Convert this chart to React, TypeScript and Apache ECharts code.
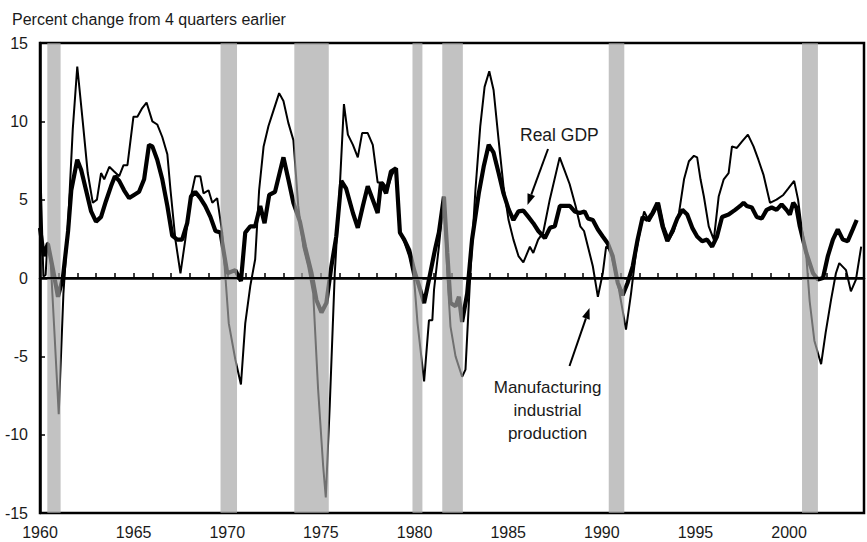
import React, { useEffect, useRef } from "react";
import * as echarts from "echarts";

const titleText = "Percent change from 4 quarters earlier";
const gdpLabel = "Real GDP";
const mfgLabel = ["Manufacturing", "industrial", "production"];

const recessions: [number, number][] = [
  [1960.39, 1961.1],
  [1969.64, 1970.52],
  [1973.58, 1975.42],
  [1979.89, 1980.42],
  [1981.48, 1982.58],
  [1990.37, 1991.2],
  [2000.69, 2001.54],
];

// Real GDP, percent change from 4 quarters earlier (year, value)
const gdp: [number, number][] = [
  [1960.0, 3.2], [1960.2, 1.4], [1960.42, 2.2], [1960.7, 0.5], [1960.96, -1.2],
  [1961.22, 0.0], [1961.5, 3.0], [1961.67, 5.6], [1961.99, 7.55], [1962.2, 6.9],
  [1962.46, 5.6], [1962.73, 4.25], [1962.99, 3.6], [1963.26, 3.9], [1963.52, 4.9],
  [1963.79, 5.85], [1964.0, 6.5], [1964.23, 6.2], [1964.49, 5.6], [1964.76, 5.1],
  [1965.02, 5.3], [1965.29, 5.5], [1965.56, 6.3], [1965.82, 8.5], [1966.0, 8.4],
  [1966.26, 7.55], [1966.53, 6.3], [1966.8, 4.6], [1967.06, 2.7], [1967.33, 2.45],
  [1967.59, 2.45], [1967.86, 3.5], [1968.06, 5.2], [1968.29, 5.5], [1968.56, 5.1],
  [1968.82, 4.6], [1969.1, 3.9], [1969.37, 3.0], [1969.64, 2.9], [1970.0, 0.3],
  [1970.43, 0.5], [1970.73, -0.2], [1970.96, 2.9], [1971.23, 3.3], [1971.49, 3.3],
  [1971.76, 4.6], [1971.99, 3.5], [1972.24, 5.3], [1972.55, 5.5], [1973.0, 7.7],
  [1973.26, 6.3], [1973.53, 4.8], [1973.88, 3.6], [1974.15, 2.0], [1974.5, 0.3],
  [1974.76, -1.4], [1975.03, -2.2], [1975.29, -1.6], [1975.56, 0.75], [1975.82, 2.65],
  [1976.09, 6.2], [1976.35, 5.7], [1976.71, 4.15], [1976.97, 3.2], [1977.24, 4.6],
  [1977.5, 5.85], [1977.77, 5.0], [1978.03, 4.15], [1978.21, 6.1], [1978.48, 5.4],
  [1978.74, 6.8], [1979.01, 7.0], [1979.22, 2.9], [1979.45, 2.45], [1979.71, 1.8],
  [1979.98, 0.5], [1980.24, -0.5], [1980.51, -1.6], [1980.77, -0.1], [1981.09, 1.8],
  [1981.3, 2.9], [1981.57, 5.2], [1981.75, 1.6], [1981.92, -1.6], [1982.19, -1.8],
  [1982.37, -1.2], [1982.54, -2.8], [1982.81, -1.0], [1983.07, 2.45], [1983.43, 5.4],
  [1983.69, 7.1], [1983.96, 8.5], [1984.22, 8.0], [1984.49, 6.7], [1984.75, 5.4],
  [1985.02, 4.4], [1985.28, 3.7], [1985.55, 4.25], [1985.81, 4.3], [1986.08, 3.9],
  [1986.34, 3.5], [1986.61, 3.0], [1986.96, 2.55], [1987.23, 3.2], [1987.49, 3.3],
  [1987.76, 4.6], [1988.0, 4.6], [1988.29, 4.6], [1988.55, 4.25], [1988.82, 4.15],
  [1989.08, 4.25], [1989.26, 3.8], [1989.52, 3.7], [1989.79, 3.1], [1990.05, 2.65],
  [1990.32, 2.2], [1990.58, 1.4], [1990.85, -0.3], [1991.11, -1.1], [1991.38, -0.3],
  [1991.65, 0.75], [1991.91, 2.45], [1992.18, 3.9], [1992.44, 3.7], [1992.71, 4.15],
  [1992.97, 4.8], [1993.24, 3.3], [1993.5, 2.35], [1993.77, 3.0], [1994.03, 3.8],
  [1994.3, 4.35], [1994.56, 4.05], [1994.83, 3.2], [1995.09, 2.65], [1995.36, 2.35],
  [1995.62, 2.45], [1995.89, 2.0], [1996.15, 2.65], [1996.42, 3.9], [1996.77, 4.05],
  [1997.12, 4.35], [1997.39, 4.6], [1997.57, 4.8], [1997.74, 4.6], [1998.01, 4.5],
  [1998.27, 3.9], [1998.54, 3.8], [1998.8, 4.35], [1999.07, 4.5], [1999.33, 4.35],
  [1999.6, 4.7], [1999.86, 4.35], [2000.04, 4.05], [2000.22, 4.8], [2000.39, 4.5],
  [2000.57, 3.3], [2000.92, 1.6], [2001.28, 0.3], [2001.54, -0.1], [2001.81, 0.0],
  [2002.07, 1.4], [2002.34, 2.45], [2002.6, 3.1], [2002.87, 2.45], [2003.13, 2.35],
  [2003.4, 3.1], [2003.61, 3.7],
];

// Manufacturing industrial production, percent change from 4 quarters earlier
const mfg: [number, number][] = [
  [1960.0, 7.8], [1960.18, 0.1], [1960.3, 0.2], [1960.4, 2.3], [1960.55, 1.5],
  [1960.75, -3.0], [1961.0, -8.7], [1961.25, -1.0], [1961.5, 3.5], [1961.75, 9.5],
  [1961.99, 13.5], [1962.29, 9.9], [1962.55, 6.7], [1962.82, 4.8], [1963.04, 5.0],
  [1963.26, 6.7], [1963.43, 6.3], [1963.7, 7.1], [1963.96, 6.8], [1964.23, 6.5],
  [1964.46, 7.2], [1964.67, 7.2], [1964.99, 10.3], [1965.2, 10.3], [1965.46, 10.85],
  [1965.69, 11.2], [1966.0, 10.0], [1966.26, 9.8], [1966.53, 9.0], [1966.8, 7.9],
  [1966.97, 5.6], [1967.23, 2.45], [1967.5, 0.3], [1967.76, 2.45], [1968.06, 5.2],
  [1968.29, 6.5], [1968.56, 6.5], [1968.73, 5.4], [1969.0, 5.6], [1969.2, 4.8],
  [1969.46, 5.1], [1969.73, 2.9], [1970.08, -2.9], [1970.43, -5.2], [1970.73, -6.8],
  [1970.96, -2.9], [1971.23, -0.5], [1971.49, 1.2], [1971.7, 5.6], [1971.94, 8.4],
  [1972.2, 9.7], [1972.47, 10.7], [1972.77, 11.8], [1973.0, 11.3], [1973.26, 9.9],
  [1973.53, 8.8], [1973.79, 4.6], [1974.06, 2.0], [1974.32, 0.75], [1974.59, -1.0],
  [1974.85, -7.1], [1975.12, -12.0], [1975.26, -14.0], [1975.47, -8.2], [1975.74, 0.3],
  [1976.0, 5.6], [1976.23, 11.1], [1976.44, 9.15], [1976.71, 8.5], [1976.97, 7.7],
  [1977.2, 9.25], [1977.5, 9.25], [1977.77, 8.5], [1978.03, 6.1], [1978.3, 6.1],
  [1978.56, 5.7], [1978.8, 6.6], [1979.01, 7.0], [1979.22, 2.9], [1979.45, 2.3],
  [1979.71, 1.4], [1979.98, -0.1], [1980.16, -2.9], [1980.51, -6.6], [1980.77, -2.7],
  [1980.95, -2.7], [1981.04, -0.75], [1981.3, 2.0], [1981.57, 5.2], [1981.75, 0.3],
  [1981.92, -3.1], [1982.19, -5.0], [1982.54, -6.3], [1982.72, -5.85], [1982.98, 0.3],
  [1983.25, 5.6], [1983.51, 9.7], [1983.74, 12.2], [1983.99, 13.2], [1984.22, 12.0],
  [1984.49, 8.8], [1984.75, 5.85], [1985.02, 3.7], [1985.28, 2.45], [1985.55, 1.4],
  [1985.81, 1.0], [1986.16, 2.0], [1986.34, 1.6], [1986.6, 2.45], [1986.87, 2.9],
  [1987.22, 5.0], [1987.75, 7.7], [1988.0, 6.9], [1988.28, 6.0], [1988.6, 4.6],
  [1988.85, 3.3], [1989.05, 3.0], [1989.26, 2.0], [1989.52, 0.75], [1989.79, -1.2],
  [1990.05, 0.3], [1990.23, 2.0], [1990.45, 1.8], [1990.85, -0.3], [1991.29, -3.3],
  [1991.56, -1.0], [1991.82, 1.6], [1992.09, 3.3], [1992.26, 4.25], [1992.53, 3.6],
  [1992.79, 4.15], [1993.06, 4.8], [1993.32, 3.3], [1993.59, 2.45], [1993.85, 3.0],
  [1994.12, 4.15], [1994.39, 6.3], [1994.65, 7.45], [1994.92, 7.8], [1995.09, 7.7],
  [1995.27, 6.3], [1995.45, 5.2], [1995.71, 3.3], [1995.98, 2.45], [1996.24, 5.2],
  [1996.51, 6.3], [1996.77, 6.7], [1996.95, 8.4], [1997.21, 8.3], [1997.48, 8.7],
  [1997.8, 9.15], [1998.1, 8.4], [1998.36, 7.55], [1998.63, 6.6], [1998.98, 4.8],
  [1999.33, 5.0], [1999.69, 5.3], [1999.95, 5.7], [2000.27, 6.2], [2000.48, 5.0],
  [2000.66, 3.3], [2000.92, 1.4], [2001.1, -1.5], [2001.35, -4.0], [2001.71, -5.5],
  [2001.95, -3.5], [2002.24, -1.4], [2002.5, 0.3], [2002.68, 0.95], [2003.04, 0.5],
  [2003.3, -0.85], [2003.57, -0.1], [2003.85, 2.0],
];

const FONT = "'Liberation Sans', Arial, sans-serif";
const INK = "#1a1a1a";

function arrow(x1: number, y1: number, x2: number, y2: number) {
  const len = 11;
  const half = 4;
  const dx = x2 - x1;
  const dy = y2 - y1;
  const d = Math.hypot(dx, dy);
  const ux = dx / d;
  const uy = dy / d;
  const bx = x2 - ux * len;
  const by = y2 - uy * len;
  return [
    {
      type: "line",
      shape: { x1, y1, x2: bx, y2: by },
      style: { stroke: "#000", lineWidth: 2 },
      z: 20,
    },
    {
      type: "polygon",
      shape: {
        points: [
          [x2, y2],
          [bx - uy * half, by + ux * half],
          [bx + uy * half, by - ux * half],
        ],
      },
      style: { fill: "#000" },
      z: 20,
    },
  ];
}

export default function App() {
  const ref = useRef<HTMLDivElement>(null);
  useEffect(() => {
    document.body.style.margin = "0";
    const chart = echarts.init(ref.current!, null, { renderer: "svg" });
    chart.setOption({
      animation: false,
      backgroundColor: "#fff",
      grid: {
        left: 40,
        right: -3,
        top: 43,
        bottom: 29,
        show: true,
        borderColor: "#000",
        borderWidth: 2.5,
        backgroundColor: "transparent",
      },
      xAxis: {
        type: "value",
        min: 1960,
        max: 2004,
        interval: 1,
        axisLine: { show: true, lineStyle: { color: "#000", width: 2.5 } },
        axisTick: { show: true, inside: true, length: 5, lineStyle: { color: "#000", width: 1.5 } },
        splitLine: { show: false },
        axisLabel: {
          fontFamily: FONT,
          fontSize: 16,
          color: INK,
          margin: 11,
          formatter: (v: number) => (v % 5 === 0 ? String(v) : ""),
        },
      },
      yAxis: {
        type: "value",
        min: -15,
        max: 15,
        interval: 5,
        axisLine: { show: true, lineStyle: { color: "#000", width: 2.5 } },
        axisTick: { show: true, inside: true, length: 5, lineStyle: { color: "#000", width: 1.5 } },
        splitLine: { show: false },
        axisLabel: { fontFamily: FONT, fontSize: 16, color: INK, margin: 12 },
      },
      series: [
        {
          name: "Manufacturing industrial production",
          type: "line",
          data: mfg,
          showSymbol: false,
          symbol: "none",
          z: 2,
          lineStyle: { color: "#000", width: 2 },
        },
        {
          name: "Real GDP",
          type: "line",
          data: gdp,
          showSymbol: false,
          symbol: "none",
          z: 3,
          lineStyle: { color: "#000", width: 4.2 },
          markArea: {
            silent: true,
            z: 10,
            itemStyle: { color: "rgb(165,165,165)", opacity: 0.68 },
            data: recessions.map(([a, b]) => [{ xAxis: a }, { xAxis: b }]),
          },
          markLine: {
            silent: true,
            z: 11,
            symbol: ["none", "none"],
            label: { show: false },
            lineStyle: { color: "#000", width: 2, type: "solid" },
            data: [{ yAxis: 0 }],
          },
        },
      ],
      graphic: [
        {
          type: "text",
          left: 12,
          top: 11,
          style: { text: titleText, font: `16px ${FONT}`, fill: INK },
        },
        {
          type: "text",
          x: 520,
          y: 135,
          style: { text: gdpLabel, font: `17.5px ${FONT}`, fill: INK, textVerticalAlign: "middle" },
          z: 20,
        },
        ...mfgLabel.map((t, i) => ({
          type: "text",
          x: 547.6,
          y: 387 + i * 23.3,
          style: { text: t, font: `17px ${FONT}`, fill: INK, textAlign: "center", textVerticalAlign: "middle" },
          z: 20,
        })),
        ...arrow(548, 149, 527.5, 205),
        ...arrow(569.5, 366, 589.5, 308),
      ],
    });
    return () => chart.dispose();
  }, []);
  return <div ref={ref} style={{ width: 867, height: 542 }} />;
}
